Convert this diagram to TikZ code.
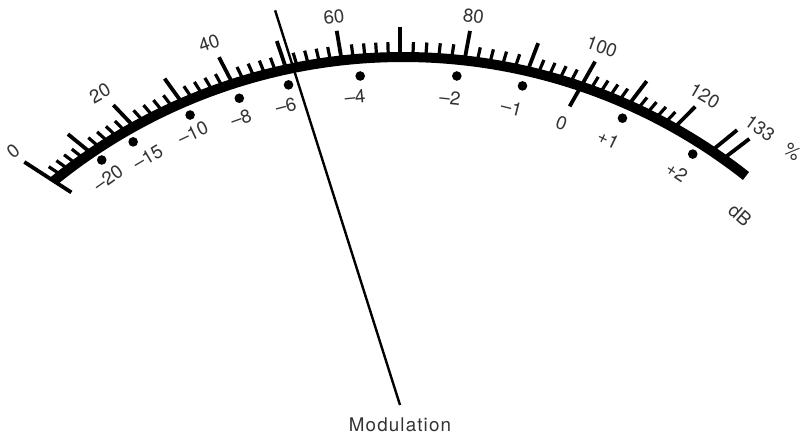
\documentclass[tikz,border=0pt]{standalone}
\usepackage{fontspec}
\setmainfont{TeX Gyre Heros}
\newfontfamily\spacedfont[LetterSpace=6]{TeX Gyre Heros}

\begin{document}
\begin{tikzpicture}[x=50pt,y=50pt,
		declare function={wu(\t)=-0.03*cos(\t)+2.06*sin(\t);
			rb(\t)=-wu(\t)+sqrt(wu(\t)^2+26.4471);},
		band/.style={line width=5pt},
		smalltick/.style={line width=1.6pt},
		bigtick/.style={line width=1.9pt},
		needle/.style={line width=1.2pt},
		scalelabel/.style={text=black!80, inner sep=0pt, font=\fontsize{9.4}{11}\selectfont},
		dbdot/.style={fill=black}]
			\useasboundingbox (0,0) rectangle (8,4.36);
			\coordinate (pivot) at (4.00,0.31);
			% scale band
			\draw[band, shift={(pivot)}] plot[domain=147.1:33.5, samples=80, smooth] (\x:{rb(\x)});
			% small ticks, every 2 %
			\foreach \p/\q in {-57.1/-50.8, -50.8/-43.7, -43.7/-35.8, -35.8/-27.5, -27.5/-18.7, -18.7/-9.6,
					-9.6/0, 0/10.6, 10.6/20.9, 20.9/29.6, 29.6/37.3, 37.3/44.7}
				\foreach \j in {1,...,4}{
					\pgfmathsetmacro\a{90-(\p)-((\q)-(\p))*\j/5}
					\draw[smalltick, shift={(pivot)}] (\a:{rb(\a)}) -- (\a:{rb(\a)+0.15});
				}
			% tens
			\foreach \t [evaluate=\t as \a using 90-(\t)] in {-50.8, -43.7, -35.8, -27.5, -18.7, -9.6, 0, 10.6, 20.9, 37.3, 44.7}
				\draw[bigtick, shift={(pivot)}] (\a:{rb(\a)}) -- (\a:{rb(\a)+0.3});
			\foreach \t [evaluate=\t as \a using 90-(\t)] in {50.8, 52.7}
				\draw[bigtick, shift={(pivot)}] (\a:{rb(\a)}) -- (\a:{rb(\a)+0.33});
			% end bar and 0 dB mark
			\draw[bigtick, shift={(pivot)}] (147.1:{rb(147.1)-0.21}) -- (147.1:{rb(147.1)+0.35});
			\draw[bigtick, shift={(pivot)}] (60.4:{rb(60.4)-0.23}) -- (60.4:{rb(60.4)+0.285});
			% percent labels
			\foreach \t/\r/\txt [count=\i, evaluate=\t as \a using 90-(\t), evaluate=\t as \rot using -0.68*(\t)] in
					{-56.7/4.628/0, -43.9/4.328/20, -27.8/4.094/40, -9.65/3.939/60, 10.7/3.958/80,
					29.4/4.11/100, 44.6/4.34/120, 52.45/4.54/133, 57.2/4.67/\%}
				\node[scalelabel, rotate=\rot] (pct\i) at ([shift={(pivot)}] \a:\r) {\txt};
			% dB dots
			\foreach \t/\r [evaluate=\t as \a using 90-(\t)] in {-50.6/3.86, -45.4/3.748, -35.9/3.58, -27.65/3.463, -19.2/3.39,
					-6.9/3.314, 9.8/3.339, 21.0/3.418, 37.8/3.63, 49.4/3.856}
				\fill[dbdot, shift={(pivot)}] (\a:\r) circle(0.048);
			% dB labels
			\foreach \t/\r/\txt [count=\i, evaluate=\t as \a using 90-(\t), evaluate=\t as \rot using -0.68*(\t)] in
					{-52.1/3.699/–20, -45.5/3.536/–15, -37.3/3.418/–10, -29/3.281/–8, -20.9/3.20/–6,
					-8.3/3.116/–4, 9.25/3.11/–2, 20.6/3.173/–1, 29.8/3.253/0, 38.1/3.376/+1,
					49.9/3.62/+2, 60.8/3.895/dB}
				\node[scalelabel, rotate=\rot] (db\i) at ([shift={(pivot)}] \a:\r) {\txt};
			% needle
			\coordinate (tip) at ([shift={(pivot)}] 107.56:4.14);
			\draw[needle] (pivot) -- (tip);
			\node[scalelabel, font=\spacedfont\fontsize{9.4}{11}\selectfont] (modlabel) at (4.00,0.11) {Modulation};
		\end{tikzpicture}
\end{document}
